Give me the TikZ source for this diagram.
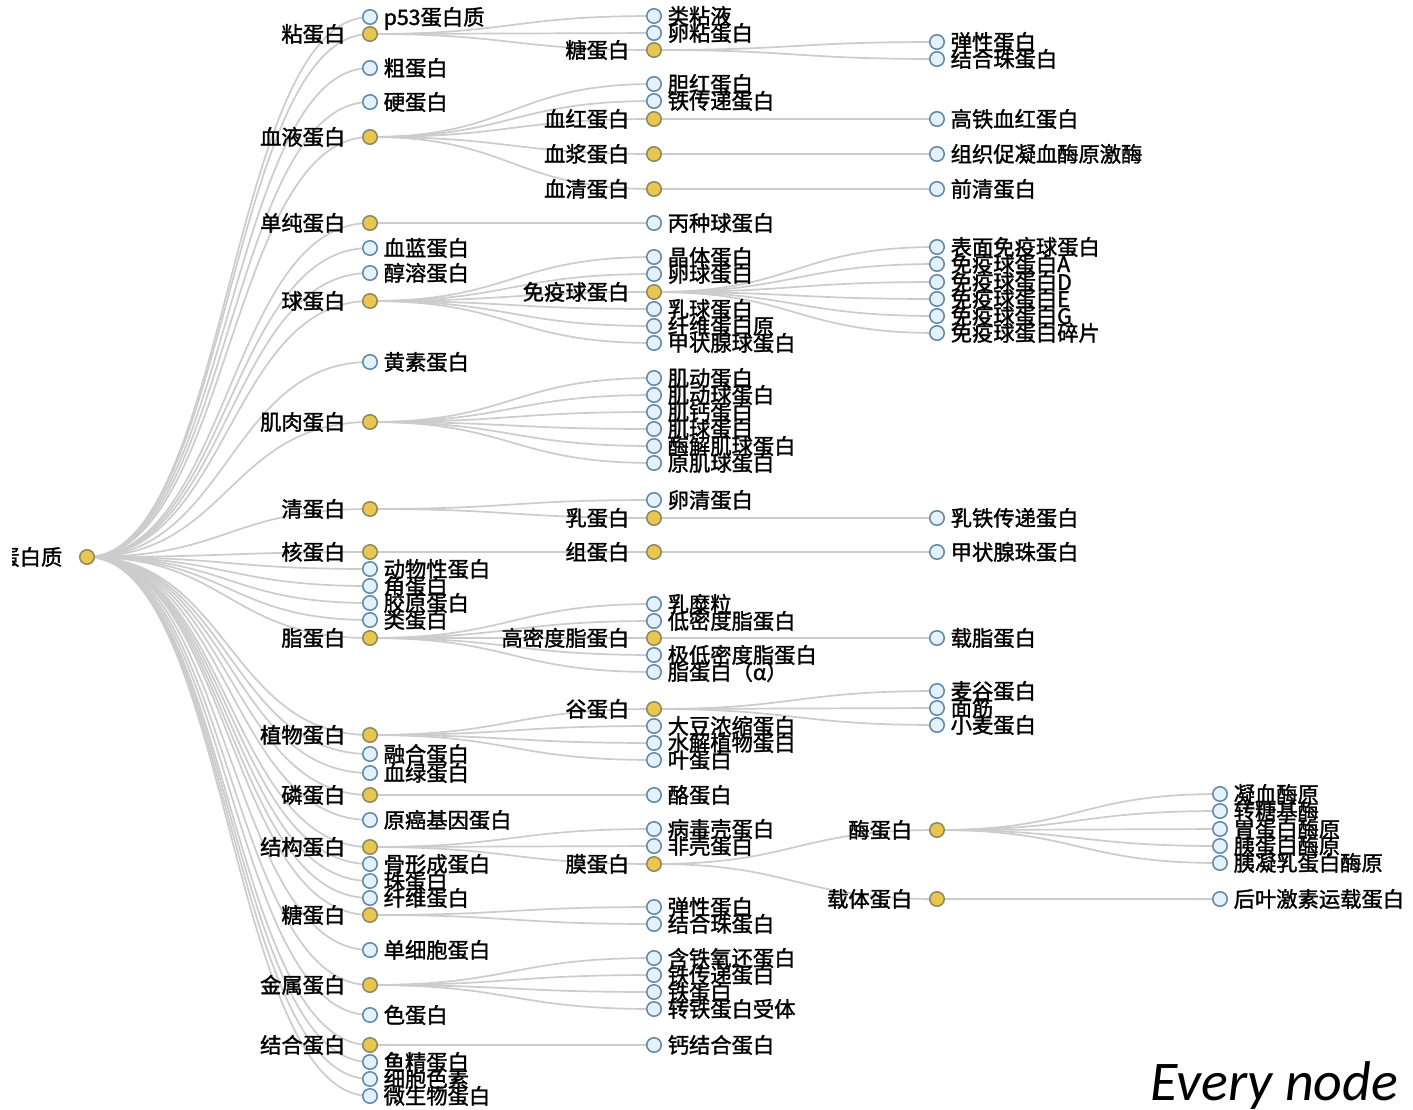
\documentclass[tikz,border=0pt]{standalone}
\usepackage{fontspec}
\newfontfamily\cjk[FakeBold=1.5]{Noto Sans CJK SC}
\newfontfamily\capfont{Carlito}
\usetikzlibrary{calc,backgrounds}

\definecolor{linkc}{RGB}{204,204,204}
\definecolor{leaffill}{RGB}{226,241,250}
\definecolor{leafdraw}{RGB}{96,135,168}
\definecolor{branchfill}{RGB}{232,198,80}
\definecolor{branchdraw}{RGB}{140,136,96}

\tikzset{
  lab/.style={font=\cjk\fontsize{21.3pt}{24pt}\selectfont, inner sep=0pt,
              text height=16pt, text depth=0pt, text=black},
  dot/.style={circle, minimum size=14.5pt, inner sep=0pt, line width=1.5pt},
  branchdot/.style={dot, draw=branchdraw, fill=branchfill},
  leafnode/.style={dot, draw=leafdraw, fill=leaffill,
                   label={[lab, label distance=5.5pt]east:#1}},
  branchnode/.style={branchdot,
                     label={[lab, label distance=16.5pt]west:#1}},
  link/.style={draw=linkc, line width=1.7pt},
}

% horizontal "diagonal" link between two node centres
\newcommand\treelink[2]{%
  \draw[link] (#1.center) .. controls ($(#1.center)!0.5!(#1.center-|#2.center)$)
    and ($(#2.center)!0.5!(#2.center-|#1.center)$) .. (#2.center);}

\begin{document}
\begin{tikzpicture}[x=1pt,y=-1pt]
\useasboundingbox (0,0) rectangle (1413,1109);

% root, its label runs past the left frame edge
\node[branchdot] (r) at (87,557) {};
\begin{scope}
  \clip (12,530) rectangle (80,590);
  \node[lab, anchor=east] (rlab) at ($(r.west)+(-16.5pt,0)$) {蛋白质};
\end{scope}

% first level
\node[leafnode=p53蛋白质] (a1) at (370,17) {};
\node[branchnode=粘蛋白] (a2) at (370,34) {};
\node[leafnode=粗蛋白] (a3) at (370,68) {};
\node[leafnode=硬蛋白] (a4) at (370,102) {};
\node[branchnode=血液蛋白] (a5) at (370,137) {};
\node[branchnode=单纯蛋白] (a6) at (370,223) {};
\node[leafnode=血蓝蛋白] (a7) at (370,248) {};
\node[leafnode=醇溶蛋白] (a8) at (370,273) {};
\node[branchnode=球蛋白] (a9) at (370,301) {};
\node[leafnode=黄素蛋白] (a10) at (370,362) {};
\node[branchnode=肌肉蛋白] (a11) at (370,422) {};
\node[branchnode=清蛋白] (a12) at (370,509) {};
\node[branchnode=核蛋白] (a13) at (370,552) {};
\node[leafnode=动物性蛋白] (a14) at (370,569) {};
\node[leafnode=角蛋白] (a15) at (370,586) {};
\node[leafnode=胶原蛋白] (a16) at (370,603) {};
\node[leafnode=类蛋白] (a17) at (370,620) {};
\node[branchnode=脂蛋白] (a18) at (370,638) {};
\node[branchnode=植物蛋白] (a19) at (370,735) {};
\node[leafnode=融合蛋白] (a20) at (370,754) {};
\node[leafnode=血绿蛋白] (a21) at (370,773) {};
\node[branchnode=磷蛋白] (a22) at (370,795) {};
\node[leafnode=原癌基因蛋白] (a23) at (370,820) {};
\node[branchnode=结构蛋白] (a24) at (370,847) {};
\node[leafnode=骨形成蛋白] (a25) at (370,864) {};
\node[leafnode=珠蛋白] (a26) at (370,881) {};
\node[leafnode=纤维蛋白] (a27) at (370,898) {};
\node[branchnode=糖蛋白] (a28) at (370,915) {};
\node[leafnode=单细胞蛋白] (a29) at (370,950) {};
\node[branchnode=金属蛋白] (a30) at (370,985) {};
\node[leafnode=色蛋白] (a31) at (370,1015) {};
\node[branchnode=结合蛋白] (a32) at (370,1045) {};
\node[leafnode=鱼精蛋白] (a33) at (370,1062) {};
\node[leafnode=细胞色素] (a34) at (370,1079) {};
\node[leafnode=微生物蛋白] (a35) at (370,1096) {};

% second level
\node[leafnode=类粘液] (b1) at (654,16) {};
\node[leafnode=卵粘蛋白] (b2) at (654,33) {};
\node[branchnode=糖蛋白] (b3) at (654,50) {};
\node[leafnode=胆红蛋白] (b4) at (654,84) {};
\node[leafnode=铁传递蛋白] (b5) at (654,101) {};
\node[branchnode=血红蛋白] (b6) at (654,119) {};
\node[branchnode=血浆蛋白] (b7) at (654,154) {};
\node[branchnode=血清蛋白] (b8) at (654,189) {};
\node[leafnode=丙种球蛋白] (b9) at (654,223) {};
\node[leafnode=晶体蛋白] (b10) at (654,257) {};
\node[leafnode=卵球蛋白] (b11) at (654,274) {};
\node[branchnode=免疫球蛋白] (b12) at (654,292) {};
\node[leafnode=乳球蛋白] (b13) at (654,309) {};
\node[leafnode=纤维蛋白原] (b14) at (654,326) {};
\node[leafnode=甲状腺球蛋白] (b15) at (654,343) {};
\node[leafnode=肌动蛋白] (b16) at (654,378) {};
\node[leafnode=肌动球蛋白] (b17) at (654,395) {};
\node[leafnode=肌钙蛋白] (b18) at (654,412) {};
\node[leafnode=肌球蛋白] (b19) at (654,429) {};
\node[leafnode=酶解肌球蛋白] (b20) at (654,446) {};
\node[leafnode=原肌球蛋白] (b21) at (654,463) {};
\node[leafnode=卵清蛋白] (b22) at (654,500) {};
\node[branchnode=乳蛋白] (b23) at (654,518) {};
\node[branchnode=组蛋白] (b24) at (654,552) {};
\node[leafnode=乳糜粒] (b25) at (654,604) {};
\node[leafnode=低密度脂蛋白] (b26) at (654,621) {};
\node[branchnode=高密度脂蛋白] (b27) at (654,638) {};
\node[leafnode=极低密度脂蛋白] (b28) at (654,655) {};
\node[leafnode=脂蛋白（α）] (b29) at (654,672) {};
\node[branchnode=谷蛋白] (b30) at (654,709) {};
\node[leafnode=大豆浓缩蛋白] (b31) at (654,726) {};
\node[leafnode=水解植物蛋白] (b32) at (654,743) {};
\node[leafnode=叶蛋白] (b33) at (654,760) {};
\node[leafnode=酪蛋白] (b34) at (654,795) {};
\node[leafnode=病毒壳蛋白] (b35) at (654,829) {};
\node[leafnode=非壳蛋白] (b36) at (654,846) {};
\node[branchnode=膜蛋白] (b37) at (654,864) {};
\node[leafnode=弹性蛋白] (b38) at (654,907) {};
\node[leafnode=结合珠蛋白] (b39) at (654,924) {};
\node[leafnode=含铁氧还蛋白] (b40) at (654,958) {};
\node[leafnode=铁传递蛋白] (b41) at (654,975) {};
\node[leafnode=铁蛋白] (b42) at (654,992) {};
\node[leafnode=转铁蛋白受体] (b43) at (654,1009) {};
\node[leafnode=钙结合蛋白] (b44) at (654,1045) {};

% third level
\node[leafnode=弹性蛋白] (c1) at (937,42) {};
\node[leafnode=结合珠蛋白] (c2) at (937,59) {};
\node[leafnode=高铁血红蛋白] (c3) at (937,119) {};
\node[leafnode=组织促凝血酶原激酶] (c4) at (937,154) {};
\node[leafnode=前清蛋白] (c5) at (937,189) {};
\node[leafnode=表面免疫球蛋白] (c6) at (937,247) {};
\node[leafnode=免疫球蛋白A] (c7) at (937,264) {};
\node[leafnode=免疫球蛋白D] (c8) at (937,282) {};
\node[leafnode=免疫球蛋白E] (c9) at (937,299) {};
\node[leafnode=免疫球蛋白G] (c10) at (937,316) {};
\node[leafnode=免疫球蛋白碎片] (c11) at (937,333) {};
\node[leafnode=乳铁传递蛋白] (c12) at (937,518) {};
\node[leafnode=甲状腺珠蛋白] (c13) at (937,552) {};
\node[leafnode=载脂蛋白] (c14) at (937,638) {};
\node[leafnode=麦谷蛋白] (c15) at (937,691) {};
\node[leafnode=面筋] (c16) at (937,708) {};
\node[leafnode=小麦蛋白] (c17) at (937,725) {};
\node[branchnode=酶蛋白] (c18) at (937,830) {};
\node[branchnode=载体蛋白] (c19) at (937,899) {};

% fourth level
\node[leafnode=凝血酶原] (d1) at (1220,794) {};
\node[leafnode=转糖基酶] (d2) at (1220,811) {};
\node[leafnode=胃蛋白酶原] (d3) at (1220,829) {};
\node[leafnode=胰蛋白酶原] (d4) at (1220,846) {};
\node[leafnode=胰凝乳蛋白酶原] (d5) at (1220,863) {};
\node[leafnode=后叶激素运载蛋白] (d6) at (1220,899) {};

% caption
\node[font=\capfont\itshape\fontsize{56pt}{60pt}\selectfont, anchor=base west,
      inner sep=0pt] (cap) at (1150,1100) {Every node};

\begin{scope}[on background layer]
\fill[white] (0,0) rectangle (1413,1109);
\foreach \u in {a1,a2,a3,a4,a5,a6,a7,a8,a9,a10,a11,a12,a13,a14,a15,a16,a17,a18,
                a19,a20,a21,a22,a23,a24,a25,a26,a27,a28,a29,a30,a31,a32,a33,a34,a35}
  {\treelink{r}{\u}}
\foreach \u/\v in {a2/b1,a2/b2,a2/b3,b3/c1,b3/c2,
                   a5/b4,a5/b5,a5/b6,a5/b7,a5/b8,b6/c3,b7/c4,b8/c5,
                   a6/b9,
                   a9/b10,a9/b11,a9/b12,a9/b13,a9/b14,a9/b15,
                   b12/c6,b12/c7,b12/c8,b12/c9,b12/c10,b12/c11,
                   a11/b16,a11/b17,a11/b18,a11/b19,a11/b20,a11/b21,
                   a12/b22,a12/b23,b23/c12,
                   a13/b24,b24/c13,
                   a18/b25,a18/b26,a18/b27,a18/b28,a18/b29,b27/c14,
                   a19/b30,a19/b31,a19/b32,a19/b33,b30/c15,b30/c16,b30/c17,
                   a22/b34,
                   a24/b35,a24/b36,a24/b37,b37/c18,b37/c19,
                   c18/d1,c18/d2,c18/d3,c18/d4,c18/d5,c19/d6,
                   a28/b38,a28/b39,
                   a30/b40,a30/b41,a30/b42,a30/b43,
                   a32/b44}
  {\treelink{\u}{\v}}
\end{scope}
\end{tikzpicture}
\end{document}
